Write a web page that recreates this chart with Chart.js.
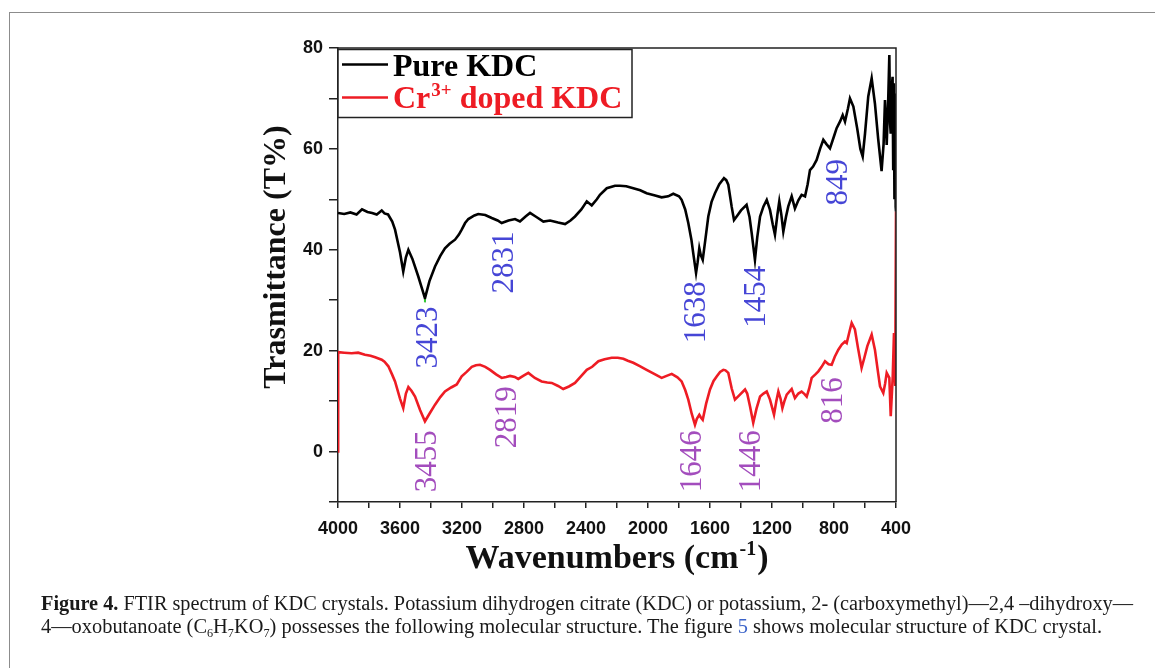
<!DOCTYPE html>
<html>
<head>
<meta charset="utf-8">
<script src="https://cdn.jsdelivr.net/npm/chart.js@4.4.1/dist/chart.umd.min.js"></script>
<style>
  html, body { margin: 0; padding: 0; background: #fff; overflow: hidden; }
  #wrap { position: relative; width: 1155px; height: 668px; }
  #frame { position: absolute; left: 9px; top: 12px; width: 1160px; height: 680px; border: 1.5px solid #8c8c8c; }
  canvas { position: absolute; left: 0; top: 0; }
  .cap { position: absolute; left: 41px; white-space: nowrap; font-family: "Liberation Serif", "Times New Roman", serif;
         font-size: 20px; line-height: 24px; color: #1a1a1a; transform-origin: 0 0; }
  .cap sub { font-size: 12px; vertical-align: -4px; line-height: 0; }
  .cap .ref { color: #3b63c9; }
</style>
</head>
<body>
<div id="wrap">
  <div id="frame"></div>
  <canvas id="ftir" width="1155" height="668"></canvas>
  <div class="cap" data-w="1092" style="top:591px"><b>Figure 4.</b> FTIR spectrum of KDC crystals. Potassium dihydrogen citrate (KDC) or potassium, 2- (carboxymethyl)—2,4 –dihydroxy—</div>
  <div class="cap" data-w="1061" style="top:614px">4—oxobutanoate (C<sub>6</sub>H<sub>7</sub>KO<sub>7</sub>) possesses the following molecular structure. The figure <span class="ref">5</span> shows molecular structure of KDC crystal.</div>
</div>
<script>
// Pure KDC spectrum (wavenumber cm-1, transmittance %)
const pureWn = [4000, 3960, 3920, 3880, 3845, 3810, 3780, 3750, 3718, 3700, 3677, 3650, 3632, 3600, 3579, 3562, 3546, 3520, 3482, 3460,
  3439, 3410, 3374, 3340, 3310, 3280, 3245, 3220, 3202, 3180, 3159, 3120, 3095, 3050, 3008, 2970, 2944, 2900, 2858, 2826,
  2790, 2761, 2720, 2675, 2632, 2580, 2535, 2500, 2471, 2430, 2395, 2363, 2330, 2310, 2266, 2213, 2181, 2140, 2095, 2050,
  2009, 1960, 1912, 1870, 1837, 1800, 1783, 1760, 1740, 1720, 1708, 1690, 1680, 1669, 1660, 1647, 1630, 1611, 1590, 1568,
  1540, 1510, 1495, 1482, 1460, 1445, 1428, 1400, 1364, 1345, 1331, 1310, 1295, 1277, 1255, 1234, 1213, 1195, 1181, 1165,
  1153, 1140, 1127, 1110, 1095, 1073, 1052, 1030, 1009, 987, 970, 955, 935, 912, 890, 869, 850, 826, 800, 783,
  760, 744, 729, 710, 697, 675, 650, 630, 615, 600, 579, 557, 536, 515, 493, 480, 471, 460, 450, 443,
  438, 434, 428, 422, 418, 414, 410, 406, 402, 400];
const pureT = [47.3, 47.1, 47.4, 47.0, 48.0, 47.5, 47.3, 47.0, 47.8, 47.2, 47.0, 45.6, 44.0, 39.5, 35.7, 38.5, 40.0, 38.2, 34.7, 32.5,
  30.4, 33.8, 36.7, 38.8, 40.3, 41.2, 42.0, 43.0, 44.0, 45.3, 46.1, 46.8, 47.1, 46.9, 46.3, 45.8, 45.3, 45.8, 46.1, 45.6,
  46.6, 47.3, 46.5, 45.6, 45.8, 45.4, 45.1, 45.8, 46.6, 48.0, 49.6, 48.8, 50.0, 50.9, 52.2, 52.7, 52.7, 52.6, 52.2, 51.8,
  51.2, 50.8, 50.4, 50.6, 51.1, 50.6, 49.9, 48.0, 45.3, 42.0, 39.3, 35.4, 37.5, 40.3, 39.0, 38.0, 42.0, 46.6, 49.5, 51.2,
  53.0, 54.2, 53.8, 52.9, 48.5, 45.9, 46.6, 47.8, 48.9, 46.5, 43.3, 38.0, 42.5, 46.6, 48.6, 49.9, 47.9, 45.0, 43.0, 47.0,
  49.6, 47.0, 43.6, 46.5, 48.6, 50.6, 48.2, 49.8, 50.9, 50.6, 53.0, 55.8, 56.5, 57.8, 60.0, 61.8, 61.0, 60.1, 62.5, 64.1,
  65.5, 66.7, 65.4, 68.0, 70.0, 68.4, 64.0, 60.0, 58.5, 63.0, 70.4, 74.0, 69.0, 62.0, 55.6, 61.0, 69.7, 60.8, 70.0, 78.6,
  65.0, 63.0, 72.0, 74.3, 56.0, 73.0, 50.0, 71.0, 48.5, 47.6];

// Cr3+ doped KDC spectrum
const dopedWn = [4000, 3999, 3960, 3912, 3870, 3826, 3790, 3760, 3718, 3700, 3675, 3650, 3632, 3600, 3579, 3562, 3546, 3525, 3503, 3470,
  3439, 3410, 3374, 3340, 3310, 3270, 3234, 3202, 3170, 3137, 3110, 3084, 3050, 3019, 2980, 2944, 2915, 2890, 2860, 2837,
  2800, 2772, 2730, 2686, 2650, 2621, 2580, 2547, 2510, 2471, 2430, 2395, 2360, 2320, 2280, 2234, 2195, 2159, 2130, 2095,
  2050, 2009, 1960, 1912, 1880, 1847, 1810, 1783, 1760, 1740, 1718, 1697, 1685, 1669, 1660, 1647, 1625, 1600, 1577, 1557,
  1535, 1514, 1500, 1482, 1460, 1439, 1410, 1374, 1360, 1342, 1321, 1300, 1277, 1255, 1234, 1213, 1200, 1187, 1172, 1159,
  1145, 1133, 1120, 1105, 1073, 1052, 1030, 1009, 990, 976, 960, 944, 920, 901, 880, 858, 835, 815, 795, 772,
  750, 729, 718, 700, 686, 665, 645, 622, 605, 585, 557, 536, 515, 503, 482, 470, 460, 443, 434, 421,
  413, 408, 405, 400];
const dopedT = [0, 19.7, 19.6, 19.5, 19.6, 19.2, 19.0, 18.7, 18.2, 17.8, 16.9, 15.2, 13.9, 10.5, 8.6, 11.5, 12.8, 12.0, 10.9, 8.2,
  6.0, 7.5, 9.3, 10.8, 11.9, 12.7, 13.3, 14.9, 15.8, 16.8, 17.1, 17.2, 16.8, 16.2, 15.3, 14.6, 14.8, 15.0, 14.8, 14.4,
  15.1, 15.6, 14.6, 13.9, 13.7, 13.6, 13.0, 12.4, 12.9, 13.6, 15.0, 16.2, 16.8, 17.9, 18.3, 18.6, 18.6, 18.4, 18.0, 17.6,
  16.9, 16.2, 15.4, 14.6, 15.0, 15.4, 14.7, 13.9, 12.2, 10.3, 7.5, 5.3, 6.5, 7.3, 6.8, 6.3, 9.5, 12.3, 14.0, 14.9,
  15.8, 16.2, 16.1, 15.6, 12.5, 10.3, 11.2, 12.3, 11.5, 9.0, 5.7, 8.5, 10.9, 11.5, 11.9, 10.3, 8.8, 7.3, 10.0, 11.9,
  10.5, 8.6, 10.0, 11.3, 12.4, 10.6, 11.5, 11.9, 11.4, 10.9, 12.5, 14.6, 15.3, 15.9, 16.8, 17.9, 17.3, 17.2, 18.8, 20.2,
  21.2, 21.8, 21.5, 23.8, 25.5, 24.2, 20.5, 16.6, 18.5, 20.9, 23.2, 20.2, 15.5, 12.9, 11.6, 13.5, 15.6, 14.6, 7.0, 14.9,
  23.5, 16.0, 13.0, 47.6];

// Band assignments written next to the curves
const purePeaks = ["3423", "2831", "1638", "1454", "849"];
const dopedPeaks = ["3455", "2819", "1646", "1446", "816"];

// where each band label sits (wavenumber, T% of text centre)
const pureLabelAt = [[3426, 22.6], [2935, 37.5], [1697, 27.6], [1310, 30.7], [781, 53.4]];
const dopedLabelAt = [[3432, -1.9], [2916, 6.8], [1723, -1.9], [1342, -1.9], [816, 10.1]];

const toPoints = (xs, ys) => xs.map((x, i) => ({ x: x, y: ys[i] }));

const RED = "#ee1c24";
const serif = '"Liberation Serif", "Times New Roman", serif';

const decor = {
  id: "decor",
  afterDraw(chart) {
    const { ctx, chartArea: a, scales } = chart;
    const sx = scales.x, sy = scales.y;
    ctx.save();

    // closing top / right sides of the frame
    ctx.strokeStyle = "#222";
    ctx.lineWidth = 1.5;
    ctx.beginPath();
    ctx.moveTo(a.left, a.top);
    ctx.lineTo(a.right, a.top);
    ctx.lineTo(a.right, a.bottom);
    ctx.stroke();

    // small green mark at the 3423 minimum
    let k = 0;
    pureWn.forEach((w, i) => { if (w > 3300 && w < 3500 && pureT[i] < pureT[k]) k = i; });
    ctx.strokeStyle = "#33cc33";
    ctx.lineWidth = 2;
    ctx.beginPath();
    ctx.moveTo(sx.getPixelForValue(pureWn[k]), sy.getPixelForValue(pureT[k]) + 1);
    ctx.lineTo(sx.getPixelForValue(pureWn[k]), sy.getPixelForValue(pureT[k]) + 4);
    ctx.stroke();

    // band labels, rotated
    ctx.font = "31px " + serif;
    ctx.textAlign = "center";
    ctx.textBaseline = "middle";
    const put = (txt, pos, col) => {
      ctx.save();
      ctx.translate(sx.getPixelForValue(pos[0]), sy.getPixelForValue(pos[1]));
      ctx.rotate(-Math.PI / 2);
      ctx.fillStyle = col;
      ctx.fillText(txt, 0, 2);
      ctx.restore();
    };
    purePeaks.forEach((t, i) => put(t, pureLabelAt[i], "#4646d6"));
    dopedPeaks.forEach((t, i) => put(t, dopedLabelAt[i], "#a34dbd"));

    // legend box
    const lx = a.left, ly = a.top + 1.5;
    ctx.fillStyle = "#fff";
    ctx.fillRect(lx, ly, 294, 68);
    ctx.strokeStyle = "#222";
    ctx.lineWidth = 1.5;
    ctx.strokeRect(lx, ly, 294, 68);
    ctx.lineWidth = 2.4;
    ctx.strokeStyle = "#000";
    ctx.beginPath(); ctx.moveTo(lx + 4, ly + 15); ctx.lineTo(lx + 50, ly + 15); ctx.stroke();
    ctx.strokeStyle = RED;
    ctx.beginPath(); ctx.moveTo(lx + 4, ly + 48); ctx.lineTo(lx + 50, ly + 48); ctx.stroke();
    ctx.textAlign = "left";
    ctx.textBaseline = "alphabetic";
    ctx.font = "bold 32px " + serif;
    ctx.fillStyle = "#000";
    ctx.fillText("Pure KDC", lx + 55, ly + 26);
    ctx.fillStyle = RED;
    let tx = lx + 55;
    ctx.fillText("Cr", tx, ly + 58);
    tx += ctx.measureText("Cr").width;
    ctx.font = "bold 19px " + serif;
    ctx.fillText("3+", tx + 1, ly + 46);
    tx += ctx.measureText("3+").width + 1;
    ctx.font = "bold 32px " + serif;
    ctx.fillText(" doped KDC", tx, ly + 58);

    // axis titles
    ctx.fillStyle = "#111";
    ctx.font = "bold 32px " + serif;
    ctx.save();
    ctx.translate(a.left - 53, (a.top + a.bottom) / 2 - 18);
    ctx.rotate(-Math.PI / 2);
    ctx.textAlign = "center";
    ctx.fillText("Trasmittance (T%)", 0, 0);
    ctx.restore();

    const main = "Wavenumbers (cm", sup = "-1", tail = ")";
    ctx.font = "bold 34px " + serif;
    const w1 = ctx.measureText(main).width, w3 = ctx.measureText(tail).width;
    ctx.font = "bold 20px " + serif;
    const w2 = ctx.measureText(sup).width;
    let x0 = (a.left + a.right) / 2 - (w1 + w2 + w3) / 2 - 1;
    const base = a.bottom + 66;
    ctx.textAlign = "left";
    ctx.font = "bold 34px " + serif;
    ctx.fillText(main, x0, base);
    ctx.font = "bold 20px " + serif;
    ctx.fillText(sup, x0 + w1 + 1, base - 13);
    ctx.font = "bold 34px " + serif;
    ctx.fillText(tail, x0 + w1 + w2 + 2, base);
    ctx.restore();
  }
};

const tickFont = { family: '"Liberation Sans", Arial, sans-serif', size: 18, weight: "bold" };

new Chart(document.getElementById("ftir"), {
  type: "line",
  data: {
    datasets: [
      { label: "Pure KDC", data: toPoints(pureWn, pureT), borderColor: "#000", borderWidth: 2.6, pointRadius: 0, tension: 0 },
      { label: "Cr3+ doped KDC", data: toPoints(dopedWn, dopedT), borderColor: RED, borderWidth: 2.6, pointRadius: 0, tension: 0 }
    ]
  },
  options: {
    responsive: false,
    animation: false,
    devicePixelRatio: 1,
    layout: { padding: { left: 298, right: 259, top: 48, bottom: 126 } },
    plugins: { legend: { display: false }, tooltip: { enabled: false } },
    scales: {
      x: {
        type: "linear",
        reverse: true,
        min: 400,
        max: 4000,
        afterFit: (s) => { s.height = 40; },
        grid: { drawOnChartArea: false, tickLength: 6, color: "#222", lineWidth: 1.5 },
        border: { color: "#222", width: 1.5 },
        ticks: {
          stepSize: 200, autoSkip: false, maxRotation: 0, padding: 10, color: "#111", font: tickFont,
          callback: (v) => (v % 400 === 0 ? v : "")
        }
      },
      y: {
        min: -10,
        max: 80,
        afterFit: (s) => { s.width = 40; },
        grid: { drawOnChartArea: false, tickLength: 9, color: "#222", lineWidth: 1.5 },
        border: { color: "#222", width: 1.5 },
        ticks: {
          stepSize: 10, autoSkip: false, padding: 6, color: "#111", font: tickFont,
          callback: (v) => (v % 20 === 0 ? v : "")
        }
      }
    }
  },
  plugins: [decor]
});

// squeeze caption lines to their set widths
document.querySelectorAll(".cap").forEach((el) => {
  const w = el.getBoundingClientRect().width;
  el.style.transform = "scaleX(" + (parseFloat(el.dataset.w) / w) + ")";
});
</script>
</body>
</html>
